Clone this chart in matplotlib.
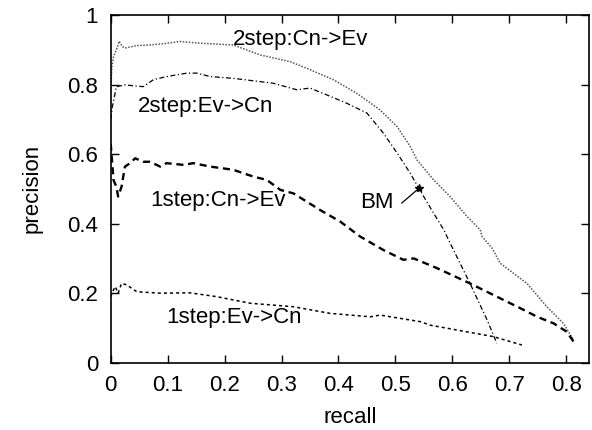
import matplotlib
matplotlib.use("Agg")
from matplotlib import pyplot as plt

plt.rcParams['font.family'] = ['Liberation Sans', 'DejaVu Sans']

# 2step:Cn->Ev
r_2ce = [0.0, 0.002, 0.005, 0.01, 0.015, 0.02, 0.025, 0.045, 0.069, 0.095, 0.122, 0.157, 0.215,
         0.263, 0.315, 0.344, 0.391, 0.432, 0.473, 0.503, 0.526, 0.538, 0.567, 0.596, 0.626,
         0.649, 0.652, 0.670, 0.684, 0.731, 0.766, 0.795, 0.813]
p_2ce = [0.78, 0.85, 0.88, 0.90, 0.925, 0.91, 0.905, 0.912, 0.914, 0.918, 0.924, 0.919, 0.914,
         0.885, 0.866, 0.847, 0.814, 0.775, 0.727, 0.679, 0.622, 0.583, 0.526, 0.478, 0.420,
         0.382, 0.363, 0.329, 0.286, 0.228, 0.161, 0.113, 0.065]

# 2step:Ev->Cn
r_2ec = [0.0, 0.003, 0.01, 0.025, 0.057, 0.075, 0.098, 0.134, 0.151, 0.175, 0.215, 0.285, 0.327,
         0.350, 0.380, 0.415, 0.450, 0.479, 0.503, 0.526, 0.541, 0.567, 0.585, 0.596, 0.631,
         0.661, 0.678]
p_2ec = [0.70, 0.737, 0.794, 0.799, 0.794, 0.814, 0.823, 0.833, 0.833, 0.823, 0.818, 0.804, 0.785,
         0.790, 0.770, 0.746, 0.718, 0.660, 0.603, 0.545, 0.502, 0.430, 0.382, 0.344, 0.228,
         0.123, 0.056]

# 1step:Cn->Ev
r_1ce = [0.0, 0.005, 0.01, 0.013, 0.019, 0.025, 0.034, 0.043, 0.057, 0.069, 0.087, 0.098, 0.128,
         0.145, 0.175, 0.215, 0.251, 0.274, 0.298, 0.321, 0.368, 0.403, 0.438, 0.479, 0.514,
         0.532, 0.573, 0.631, 0.678, 0.719, 0.749, 0.778, 0.801, 0.813]
p_1ce = [0.63, 0.525, 0.506, 0.478, 0.506, 0.564, 0.574, 0.588, 0.578, 0.578, 0.564, 0.574, 0.569,
         0.574, 0.564, 0.555, 0.535, 0.526, 0.497, 0.487, 0.439, 0.406, 0.363, 0.324, 0.296,
         0.300, 0.272, 0.228, 0.190, 0.157, 0.132, 0.113, 0.089, 0.060]

# 1step:Ev->Cn
r_1ec = [0.0, 0.002, 0.008, 0.013, 0.019, 0.028, 0.046, 0.087, 0.139, 0.186, 0.245, 0.321, 0.385,
         0.456, 0.473, 0.544, 0.561, 0.672, 0.722]
p_1ec = [0.19, 0.20, 0.219, 0.20, 0.228, 0.224, 0.204, 0.200, 0.201, 0.190, 0.171, 0.161, 0.142,
         0.132, 0.137, 0.118, 0.108, 0.075, 0.051]

bm_r, bm_p = 0.541, 0.502

fig = plt.figure(figsize=(5.92, 4.30), dpi=100)
ax = fig.add_axes([0.187, 0.1565, 0.808, 0.8085])

ax.plot(r_2ce, p_2ce, color='#555555', lw=1.1, linestyle=(0, (1, 1)))
ax.plot(r_2ec, p_2ec, color='black', lw=0.9, linestyle=(0, (4, 2, 1, 2)))
ax.plot(r_1ce, p_1ce, color='black', lw=1.7, linestyle=(0, (3, 2)))
ax.plot(r_1ec, p_1ec, color='black', lw=1.1, linestyle=(0, (2, 2)))
ax.plot([bm_r], [bm_p], marker='*', color='black', markersize=6)

fs = 16
ax.text(0.333, 0.929, '2step:Cn->Ev', fontsize=fs, ha='center', va='center')
ax.text(0.166, 0.736, '2step:Ev->Cn', fontsize=fs, ha='center', va='center')
ax.text(0.189, 0.468, '1step:Cn->Ev', fontsize=fs, ha='center', va='center')
ax.text(0.217, 0.129, '1step:Ev->Cn', fontsize=fs, ha='center', va='center')
ax.text(0.467, 0.460, 'BM', fontsize=fs, ha='center', va='center')
ax.annotate('', xy=(0.538, 0.497), xytext=(0.511, 0.459),
            arrowprops=dict(arrowstyle='-', color='black', lw=0.9, shrinkA=0, shrinkB=0))

ax.set_xlim(0, 0.84)
ax.set_ylim(0, 1)
ax.set_xticks([0, 0.1, 0.2, 0.3, 0.4, 0.5, 0.6, 0.7, 0.8])
ax.set_xticklabels(['0', '0.1', '0.2', '0.3', '0.4', '0.5', '0.6', '0.7', '0.8'])
ax.set_yticks([0, 0.2, 0.4, 0.6, 0.8, 1])
ax.set_yticklabels(['0', '0.2', '0.4', '0.6', '0.8', '1'])
ax.tick_params(direction='in', length=6, width=1, top=True, right=True, labelsize=fs, pad=9)
for s in ax.spines.values():
    s.set_linewidth(1.2)

ax.set_xlabel('recall', fontsize=fs, labelpad=8)
ax.set_ylabel('precision', fontsize=fs, labelpad=18)

fig.savefig('out.png', dpi=100)
